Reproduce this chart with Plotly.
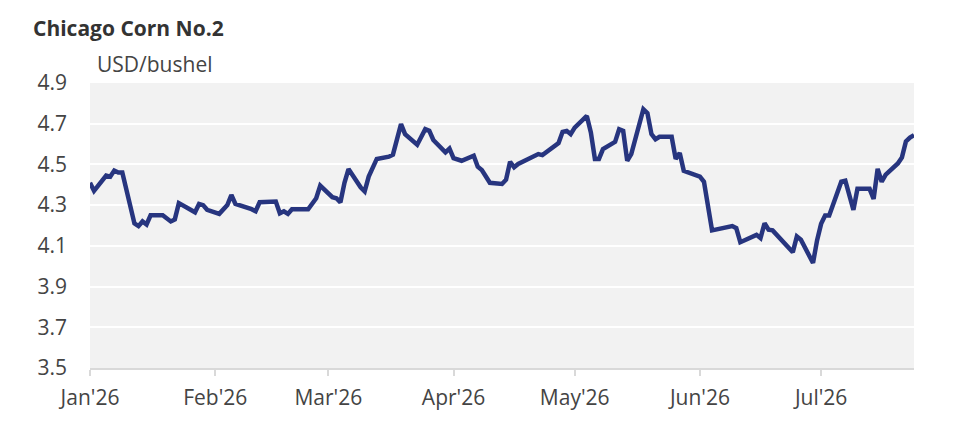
import plotly.graph_objects as go

# Chicago Corn No.2, USD/bushel, values at its turning points
dates = [
    "2026-01-01", "2026-01-02", "2026-01-05", "2026-01-06", "2026-01-07",
    "2026-01-08", "2026-01-09", "2026-01-12", "2026-01-13", "2026-01-14",
    "2026-01-15", "2026-01-16", "2026-01-19", "2026-01-21", "2026-01-22",
    "2026-01-23", "2026-01-27", "2026-01-28", "2026-01-29", "2026-01-30",
    "2026-02-02", "2026-02-04", "2026-02-05", "2026-02-06", "2026-02-10",
    "2026-02-11", "2026-02-12", "2026-02-16", "2026-02-17", "2026-02-18",
    "2026-02-19", "2026-02-20", "2026-02-24", "2026-02-26", "2026-02-27",
    "2026-03-02", "2026-03-03", "2026-03-04", "2026-03-05", "2026-03-06",
    "2026-03-09", "2026-03-10", "2026-03-11", "2026-03-13", "2026-03-16",
    "2026-03-17", "2026-03-19", "2026-03-20", "2026-03-23", "2026-03-25",
    "2026-03-26", "2026-03-27", "2026-03-30", "2026-03-31", "2026-04-01",
    "2026-04-03", "2026-04-06", "2026-04-07", "2026-04-08", "2026-04-10",
    "2026-04-13", "2026-04-14", "2026-04-15", "2026-04-16", "2026-04-17",
    "2026-04-20", "2026-04-22", "2026-04-23", "2026-04-27", "2026-04-28",
    "2026-04-29", "2026-04-30", "2026-05-01", "2026-05-04", "2026-05-05",
    "2026-05-06", "2026-05-07", "2026-05-08", "2026-05-11", "2026-05-12",
    "2026-05-13", "2026-05-14", "2026-05-15", "2026-05-18", "2026-05-19",
    "2026-05-20", "2026-05-21", "2026-05-22", "2026-05-25", "2026-05-26",
    "2026-05-27", "2026-05-28", "2026-06-01", "2026-06-02", "2026-06-03",
    "2026-06-04", "2026-06-09", "2026-06-10", "2026-06-11", "2026-06-15",
    "2026-06-16", "2026-06-17", "2026-06-18", "2026-06-19", "2026-06-24",
    "2026-06-25", "2026-06-26", "2026-06-29", "2026-06-30", "2026-07-01",
    "2026-07-02", "2026-07-03", "2026-07-06", "2026-07-07", "2026-07-09",
    "2026-07-10", "2026-07-13", "2026-07-14", "2026-07-15", "2026-07-16",
    "2026-07-17", "2026-07-20", "2026-07-21", "2026-07-22", "2026-07-23",
    "2026-07-24",
]
prices = [
    4.41, 4.37, 4.445, 4.44, 4.47,
    4.46, 4.46, 4.21, 4.197, 4.22,
    4.205, 4.25, 4.25, 4.22, 4.23,
    4.31, 4.265, 4.306, 4.30, 4.277,
    4.257, 4.30, 4.35, 4.306, 4.28,
    4.27, 4.314, 4.318, 4.26, 4.27,
    4.257, 4.28, 4.28, 4.334, 4.396,
    4.339, 4.334, 4.314, 4.41, 4.477,
    4.388, 4.368, 4.44, 4.527, 4.538,
    4.548, 4.698, 4.649, 4.597, 4.673,
    4.665, 4.62, 4.559, 4.578, 4.531,
    4.518, 4.543, 4.489, 4.473, 4.41,
    4.404, 4.425, 4.513, 4.486, 4.502,
    4.534, 4.551, 4.546, 4.605, 4.66,
    4.665, 4.649, 4.681, 4.738, 4.657,
    4.527, 4.527, 4.575, 4.611, 4.673,
    4.665, 4.518, 4.551, 4.771, 4.752,
    4.649, 4.624, 4.636, 4.636, 4.527,
    4.556, 4.469, 4.44, 4.415, 4.298,
    4.176, 4.197, 4.187, 4.118, 4.154,
    4.138, 4.211, 4.179, 4.176, 4.069,
    4.146, 4.13, 4.016, 4.127, 4.208,
    4.249, 4.249, 4.415, 4.42, 4.277,
    4.38, 4.38, 4.331, 4.478, 4.415,
    4.45, 4.505, 4.534, 4.613, 4.632,
    4.644,
]

tick_dates = ["2026-01-01", "2026-02-01", "2026-03-01", "2026-04-01",
              "2026-05-01", "2026-06-01", "2026-07-01"]
tick_labels = ["Jan'26", "Feb'26", "Mar'26", "Apr'26", "May'26", "Jun'26", "Jul'26"]

fig = go.Figure()
fig.add_trace(go.Scatter(x=dates, y=prices, mode="lines",
                         line=dict(color="#27357f", width=4.5),
                         showlegend=False))

# page body has an 8px margin, so the figure is 16px smaller than the window
fig.update_layout(
    width=956, height=427,
    margin=dict(l=82, r=50, t=75, b=67),
    paper_bgcolor="white",
    plot_bgcolor="#f2f2f2",
    font=dict(family="Open Sans", size=21, color="#444444"),
    title=dict(text="<b>Chicago Corn No.2</b>", x=25 / 956, xanchor="left",
               y=1 - 20.5 / 427, yanchor="middle", xref="container",
               font=dict(family="Open Sans", size=21, color="#333333")),
    annotations=[dict(text="USD/bushel", xref="paper", yref="paper",
                      x=0, y=1, xshift=5, yshift=3, xanchor="left",
                      yanchor="bottom", showarrow=False,
                      font=dict(family="Open Sans", size=21, color="#444444"))],
)
fig.update_xaxes(range=["2026-01-01", "2026-07-24"], tickvals=tick_dates,
                 ticktext=tick_labels, showgrid=False, zeroline=False,
                 showline=True, linecolor="#d9d9d9", linewidth=2,
                 ticks="outside", ticklen=6, tickwidth=2, tickcolor="#d9d9d9",
                 ticklabelstandoff=4)
fig.update_yaxes(range=[3.5, 4.9], dtick=0.2, tick0=3.5, tickformat=".1f",
                 gridcolor="white", gridwidth=2, zeroline=False,
                 showline=False, ticks="", ticklabelstandoff=22)

fig.write_html("out.html")
